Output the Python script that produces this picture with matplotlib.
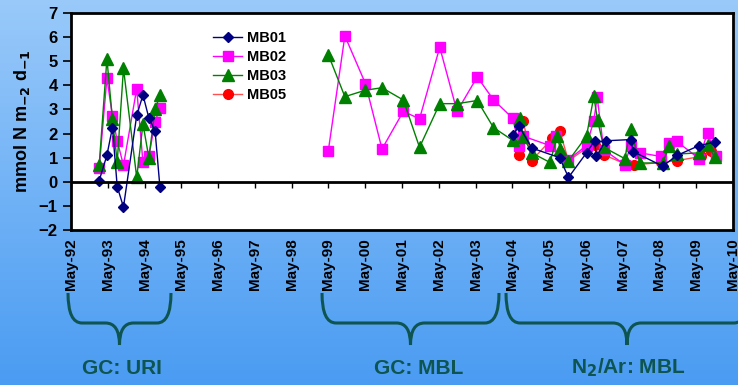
import numpy as np
import matplotlib
matplotlib.use("Agg")
import matplotlib.pyplot as plt
from matplotlib.path import Path
from matplotlib.patches import PathPatch

plt.rcParams['font.family'] = ['Liberation Sans', 'DejaVu Sans']
plt.rcParams['font.weight'] = 'bold'

# sampling dates as decimal years, flux values (mmol N m-2 d-1)
mb01_year = [1993.10, 1993.31, 1993.46, 1993.59, 1993.76, 1994.12, 1994.29, 1994.45, 1994.62, 1994.75,
             2004.34, 2004.52, 2004.86, 2005.62, 2005.86, 2006.35, 2006.57, 2006.62, 2006.87,
             2007.55, 2007.62, 2008.42, 2008.82, 2009.41, 2009.84]
mb01_val = [0.05, 1.1, 2.25, -0.2, -1.05, 2.75, 3.6, 2.65, 2.1, -0.2,
            1.95, 2.3, 1.4, 1.0, 0.18, 1.2, 1.7, 1.05, 1.7,
            1.75, 1.25, 0.65, 1.1, 1.5, 1.65]

mb02_year = [1993.10, 1993.31, 1993.46, 1993.59, 1993.76, 1994.12, 1994.29, 1994.45, 1994.62, 1994.75,
             1999.33, 1999.78, 2000.34, 2000.79, 2001.37, 2001.81, 2002.36, 2002.83, 2003.38, 2003.82,
             2004.34, 2004.52, 2004.63, 2005.36, 2005.53, 2005.86, 2006.35, 2006.55, 2006.64, 2006.82,
             2007.39, 2007.55, 2007.80, 2008.37, 2008.59, 2008.80, 2009.41, 2009.64, 2009.87]
mb02_val = [0.57, 4.3, 2.72, 1.7, 0.68, 3.86, 0.8, 1.05, 2.5, 3.05,
            1.29, 6.05, 4.07, 1.36, 2.92, 2.61, 5.58, 2.92, 4.35, 3.4,
            2.64, 1.47, 1.89, 1.5, 1.89, 0.92, 1.5, 2.54, 3.51, 1.33,
            0.71, 1.5, 1.2, 1.05, 1.61, 1.68, 0.96, 2.03, 1.08]

mb03_year = [1993.10, 1993.31, 1993.46, 1993.59, 1993.76, 1994.12, 1994.29, 1994.45, 1994.62, 1994.75,
             1999.33, 1999.78, 2000.34, 2000.79, 2001.37, 2001.81, 2002.36, 2002.83, 2003.38, 2003.82,
             2004.34, 2004.54, 2004.63, 2004.86, 2005.36, 2005.55, 2005.64, 2005.86, 2006.35, 2006.55,
             2006.65, 2006.82, 2007.39, 2007.55, 2007.80, 2008.42, 2008.59, 2008.82, 2009.41, 2009.64,
             2009.84]
mb03_val = [0.7, 5.1, 2.6, 0.82, 4.7, 0.18, 2.4, 1.0, 3.0, 3.58,
            5.27, 3.53, 3.8, 3.9, 3.39, 1.43, 3.24, 3.24, 3.37, 2.25,
            1.72, 2.65, 1.86, 1.2, 0.8, 1.89, 1.36, 0.87, 1.89, 3.55,
            2.55, 1.43, 0.96, 2.17, 0.78, 0.78, 1.47, 1.15, 1.2, 1.54,
            1.01]

mb05_year = [2004.52, 2004.63, 2004.86, 2005.42, 2005.62, 2005.86, 2006.35, 2006.57, 2006.82,
             2007.39, 2007.64, 2008.37, 2008.82, 2009.46, 2009.73]
mb05_val = [1.12, 2.51, 0.88, 1.8, 2.12, 0.87, 1.4, 1.54, 1.12,
            0.75, 0.7, 0.8, 0.88, 1.05, 1.26]

tick_years = list(range(1992, 2011))
tick_labels = ["May-%02d" % (y % 100) for y in tick_years]


def with_gaps(years, vals):
    # break the line where there is a multi-year gap between campaigns
    x, y = [], []
    for i in range(len(years)):
        if i > 0 and years[i] - years[i - 1] > 2:
            x.append(np.nan)
            y.append(np.nan)
        x.append(years[i])
        y.append(vals[i])
    return x, y


fig = plt.figure(figsize=(7.38, 3.85), dpi=100)

# gradient background + annotation layer in pixel coordinates
bg = fig.add_axes([0, 0, 1, 1], zorder=0)
grad = np.linspace(0, 1, 256).reshape(-1, 1)
top = np.array([0.60, 0.79, 0.98])
bottom = np.array([0.29, 0.61, 0.95])
img = top + (bottom - top) * grad[:, :, None]
bg.imshow(img, aspect='auto', extent=[0, 738, 385, 0])
bg.set_xlim(0, 738)
bg.set_ylim(385, 0)
bg.axis('off')

brace_color = '#0e5450'


def brace(xa, xb, xc, yt=293, yh=323, yp=345, r=14):
    verts = [(xa, yt), (xa, yh), (xa + r, yh), (xc - r, yh), (xc, yh), (xc, yp),
             (xc, yp), (xc, yh), (xc + r, yh), (xb - r, yh), (xb, yh), (xb, yt)]
    codes = [Path.MOVETO, Path.CURVE3, Path.CURVE3, Path.LINETO, Path.CURVE3, Path.CURVE3,
             Path.MOVETO, Path.CURVE3, Path.CURVE3, Path.LINETO, Path.CURVE3, Path.CURVE3]
    bg.add_patch(PathPatch(Path(verts, codes), fill=False, edgecolor=brace_color, lw=2.2))


brace(68, 171, 119.5)
brace(322, 499, 410.5)
brace(506, 748, 627)
bg.text(122, 368, "GC: URI", ha='center', va='center', fontsize=15, color=brace_color, fontweight='bold')
bg.text(419, 368, "GC: MBL", ha='center', va='center', fontsize=15, color=brace_color, fontweight='bold')
bg.text(628, 368, "N$_\\mathbf{2}$/Ar: MBL", ha='center', va='center', fontsize=15, color=brace_color,
        fontweight='bold')

ax = fig.add_axes([71 / 738, 1 - 230 / 385, (733 - 71) / 738, (230 - 13) / 385], zorder=1)
ax.set_facecolor('white')

x, y = with_gaps(mb01_year, mb01_val)
ax.plot(x, y, color='#000080', marker='D', markersize=5.5, lw=1, label='MB01', zorder=5)
x, y = with_gaps(mb02_year, mb02_val)
ax.plot(x, y, color='#ff00ff', marker='s', markersize=7, lw=1, label='MB02', zorder=3)
x, y = with_gaps(mb03_year, mb03_val)
ax.plot(x, y, color='#008000', marker='^', markersize=8, lw=1, label='MB03', zorder=4)
x, y = with_gaps(mb05_year, mb05_val)
ax.plot(x, y, color='#ff5050', marker='o', markersize=7, markerfacecolor='red', markeredgecolor='red',
        lw=1, label='MB05', zorder=2)

ax.axhline(0, color='black', lw=2, zorder=6)
ax.set_xlim(1992 + 4 / 12, 2010 + 4 / 12)
ax.set_ylim(-2, 7)
ax.set_yticks(range(-2, 8))
ax.tick_params(axis='y', labelsize=12, width=1.2, length=6)
for lbl in ax.get_yticklabels():
    lbl.set_fontweight('bold')

tick_pos = [y + 4 / 12 for y in tick_years]
ax.set_xticks(tick_pos)
ax.set_xticklabels(tick_labels, rotation=90, fontsize=11, fontweight='bold')
ax.tick_params(axis='x', length=0, pad=6)

# tick marks sit on the zero line
sec = ax.secondary_xaxis(2 / 9)
sec.set_xticks(tick_pos)
sec.tick_params(axis='x', direction='out', length=4, width=1, labelbottom=False, labeltop=False)
sec.spines['bottom'].set_visible(False)

for s in ax.spines.values():
    s.set_linewidth(2)

ax.set_ylabel("mmol N m$_{\\mathbf{-2}}$ d$_{\\mathbf{-1}}$", fontsize=13, fontweight='bold', labelpad=5)

ax.legend(loc='upper left', bbox_to_anchor=(200 / 738, 1 - 18 / 385), bbox_transform=fig.transFigure,
          frameon=False, handlelength=2.0, handletextpad=0.3, labelspacing=0.35,
          prop={'weight': 'bold', 'size': 10.5})

fig.savefig("out.png", dpi=100)
